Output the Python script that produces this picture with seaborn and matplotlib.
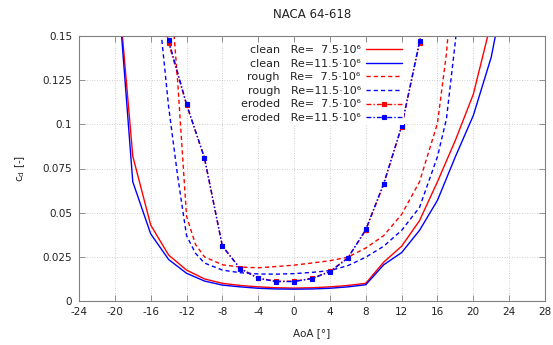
import matplotlib
matplotlib.use("Agg")
import matplotlib.pyplot as plt
import seaborn as sns
import numpy as np

# ---- data ----
aoa_clean = [-20, -18, -16, -14, -12, -10, -8, -6, -4, -2, 0, 2, 4, 6, 8, 10, 12, 14, 16, 18, 20, 22, 24]
cd_clean_75 = [0.200, 0.082, 0.043, 0.026, 0.0175, 0.0125, 0.0100, 0.0088, 0.0080, 0.0075, 0.0073,
               0.0075, 0.0080, 0.0088, 0.0100, 0.0220, 0.0310, 0.0455, 0.0675, 0.091, 0.117, 0.158, 0.200]
cd_clean_115 = [0.200, 0.0675, 0.038, 0.0235, 0.0157, 0.0113, 0.0090, 0.0080, 0.0072, 0.0068, 0.0067,
                0.0068, 0.0072, 0.0080, 0.0092, 0.0205, 0.0274, 0.040, 0.057, 0.0817, 0.105, 0.138, 0.190]

aoa_rough_75 = [-14, -13, -12, -11, -10, -8, -6, -4, -2, 0, 2, 4, 6, 8, 10, 12, 14, 16, 17, 18]
cd_rough_75 = [0.190, 0.125, 0.048, 0.032, 0.025, 0.0205, 0.0192, 0.0188, 0.0195, 0.0203, 0.0215,
               0.0228, 0.0248, 0.0300, 0.0370, 0.049, 0.0675, 0.1006, 0.140, 0.200]
aoa_rough_115 = [-15, -14, -13, -12, -11, -10, -8, -6, -4, -2, 0, 2, 4, 6, 8, 10, 12, 14, 16, 17, 18, 19]
cd_rough_115 = [0.160, 0.110, 0.071, 0.037, 0.027, 0.0215, 0.0175, 0.0160, 0.0153, 0.0152, 0.0155,
                0.0162, 0.0172, 0.0200, 0.0248, 0.031, 0.040, 0.053, 0.0817, 0.103, 0.147, 0.200]

aoa_eroded = [-16, -14, -12, -10, -8, -6, -4, -2, 0, 2, 4, 6, 8, 10, 12, 14, 16]
cd_eroded_75 = [0.190, 0.146, 0.111, 0.081, 0.031, 0.0185, 0.0130, 0.0112, 0.0112, 0.0128, 0.0168,
                0.0245, 0.040, 0.066, 0.0985, 0.146, 0.200]
cd_eroded_115 = [0.190, 0.1475, 0.1115, 0.081, 0.031, 0.0182, 0.0128, 0.0110, 0.0110, 0.0127, 0.0165,
                 0.0243, 0.0405, 0.0665, 0.099, 0.147, 0.200]

x_ticks = [-24, -20, -16, -12, -8, -4, 0, 4, 8, 12, 16, 20, 24, 28]
y_ticks = [0, 0.025, 0.05, 0.075, 0.1, 0.125, 0.15]
y_tick_labels = ["0", "0.025", "0.05", "0.075", "0.1", "0.125", "0.15"]

labels = ["clean   Re=  7.5·10⁶", "clean   Re=11.5·10⁶",
          "rough   Re=  7.5·10⁶", "rough   Re=11.5·10⁶",
          "eroded   Re=  7.5·10⁶", "eroded   Re=11.5·10⁶"]

# ---- style ----
sns.set_theme(style="white")
plt.rcParams["font.family"] = ["DejaVu Sans"]

RED = "#ff0000"
BLUE = "#0000ff"

fig = plt.figure(figsize=(5.53, 3.45), dpi=100)
ax = fig.add_axes([79 / 553, 1 - 301 / 345, (545 - 79) / 553, (301 - 36) / 345])

dash = (0, (3.0, 2.2))
dashdot = (0, (3.5, 1.5, 1.0, 1.5))

series = [
    (aoa_clean, cd_clean_75, RED, "-", None),
    (aoa_clean, cd_clean_115, BLUE, "-", None),
    (aoa_rough_75, cd_rough_75, RED, dash, None),
    (aoa_rough_115, cd_rough_115, BLUE, dash, None),
    (aoa_eroded, cd_eroded_75, RED, dashdot, "s"),
    (aoa_eroded, cd_eroded_115, BLUE, dashdot, "s"),
]

for (x, y, c, ls, mk), lab in zip(series, labels):
    kw = dict(color=c, linestyle=ls, linewidth=1.0, label=lab)
    if mk:
        kw.update(marker=mk, markersize=3.2, markeredgewidth=0.8, markerfacecolor=c, markeredgecolor=c)
    sns.lineplot(x=x, y=y, ax=ax, sort=False, errorbar=None, **kw)

ax.set_xlim(-24, 28)
ax.set_ylim(0, 0.15)
ax.set_xticks(x_ticks)
ax.set_xticklabels([str(t) for t in x_ticks])
ax.set_yticks(y_ticks)
ax.set_yticklabels(y_tick_labels)

ax.grid(True, color="#c0c0c0", linestyle=(0, (1, 2)), linewidth=0.6)
ax.set_axisbelow(True)
for s in ax.spines.values():
    s.set_color("#808080")
    s.set_linewidth(0.8)
    s.set_visible(True)
ax.tick_params(direction="in", length=4, width=0.6, color="#808080",
               top=True, right=True, bottom=True, left=True, labelsize=7.5, labelcolor="#222222")
ax.tick_params(axis="x", pad=4)
ax.tick_params(axis="y", pad=5)

ax.set_xlabel("AoA [°]", fontsize=7.5, labelpad=8, color="#222222")
ax.set_ylabel(r"c$_\mathrm{d}$ [-]", fontsize=7.5, labelpad=11, color="#222222")
ax.set_title("NACA 64-618", fontsize=8.5, pad=13, color="#222222")

leg = ax.legend(loc="upper right", bbox_to_anchor=(404 / 553, 1 - 43 / 345),
                bbox_transform=fig.transFigure, markerfirst=False, fontsize=8,
                handlelength=3.2, handletextpad=0.5, labelspacing=0.32,
                borderpad=0.2, borderaxespad=0, frameon=True, fancybox=False,
                framealpha=1.0, facecolor="white", edgecolor="none")
for t in leg.get_texts():
    t.set_color("#222222")

fig.savefig("out.png", dpi=100)
